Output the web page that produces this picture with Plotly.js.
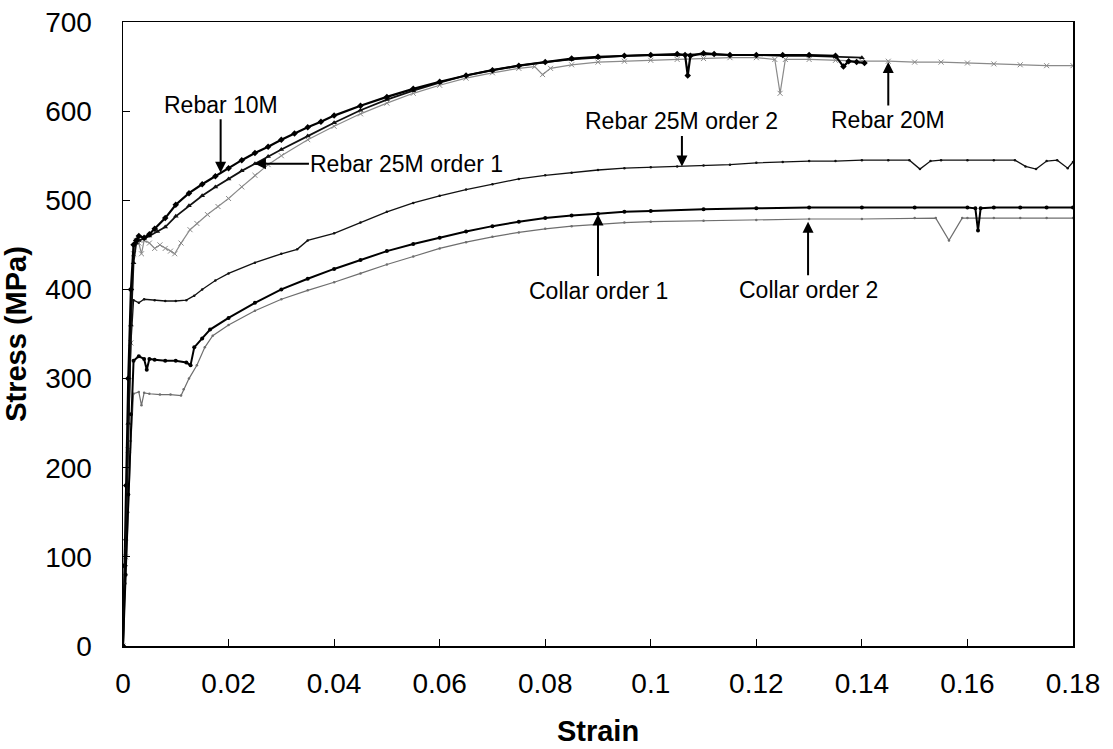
<!DOCTYPE html>
<html>
<head>
<meta charset="utf-8">
<script src="https://cdn.plot.ly/plotly-3.0.1.min.js"></script>
<style>
html,body{margin:0;padding:0;background:#fff;}
#chart{width:1113px;height:749px;}
</style>
</head>
<body>
<div id="chart"></div>
<script>
// ---- Data (strain, stress in MPa) ----
const rebar10mStrain = [0,0.0003,0.0006,0.001,0.0015,0.002,0.0025,0.003,0.004,0.005,0.006,0.008,0.01,0.0125,0.015,0.0175,0.02,0.0225,0.025,0.0275,0.03,0.0325,0.035,0.0375,0.04,0.045,0.05,0.055,0.06,0.065,0.07,0.075,0.08,0.085,0.09,0.095,0.1,0.105,0.1065,0.107,0.1075,0.11,0.112,0.115,0.12,0.125,0.13,0.135,0.1365,0.1375,0.139,0.1405];
const rebar10mStress = [0,90,180,300,400,450,455,460,458,462,468,480,495,508,518,527,536,545,553,560,568,575,582,588,595,606,616,625,633,640,646,651,655,659,661,662,663,664,663,640,662,665,664,663,663,663,663,662,650,656,655,654];

const rebar25m1Strain = [0,0.0005,0.001,0.0015,0.002,0.0025,0.003,0.004,0.005,0.0065,0.008,0.01,0.0125,0.015,0.0175,0.02,0.0225,0.025,0.0275,0.03,0.035,0.04,0.045,0.05,0.055,0.06,0.065,0.07,0.075,0.08,0.085,0.09,0.095,0.1,0.105,0.11,0.115,0.12,0.125,0.13,0.135,0.14];
const rebar25m1Stress = [0,120,250,360,430,452,455,457,460,465,470,482,494,505,515,524,533,541,549,557,572,587,601,613,623,632,640,646,651,655,658,660,662,663,663,664,663,663,662,662,661,660];

const rebar20mStrain = [0,0.0005,0.001,0.0015,0.002,0.0025,0.003,0.0035,0.004,0.005,0.006,0.007,0.008,0.009,0.0098,0.011,0.0127,0.014,0.016,0.018,0.02,0.0225,0.025,0.0275,0.03,0.035,0.04,0.045,0.05,0.055,0.06,0.065,0.07,0.075,0.078,0.0795,0.081,0.085,0.09,0.095,0.1,0.105,0.11,0.115,0.12,0.1235,0.1245,0.1255,0.13,0.135,0.14,0.145,0.15,0.155,0.16,0.165,0.17,0.175,0.18];
const rebar20mStress = [0,100,220,340,440,455,452,440,455,452,446,450,446,443,440,452,467,474,484,493,502,515,528,540,550,568,583,597,609,620,629,637,643,648,650,641,648,652,655,656,657,658,659,660,660,658,620,658,658,657,656,656,655,655,654,653,652,651,651];

const rebar25m2Strain = [0,0.0005,0.001,0.0015,0.002,0.003,0.004,0.006,0.008,0.01,0.012,0.0135,0.015,0.0175,0.02,0.025,0.03,0.033,0.035,0.04,0.045,0.05,0.055,0.06,0.065,0.07,0.075,0.08,0.085,0.09,0.095,0.1,0.105,0.11,0.115,0.12,0.125,0.13,0.135,0.14,0.145,0.149,0.151,0.153,0.155,0.16,0.165,0.169,0.171,0.173,0.175,0.177,0.179,0.18];
const rebar25m2Stress = [0,110,230,340,388,385,389,388,387,387,388,393,400,410,418,430,440,445,455,463,475,487,497,505,512,518,524,528,531,534,536,537,538,539,540,542,543,544,544,545,545,545,535,544,545,545,545,545,538,535,544,545,536,543];

const collar1Strain = [0,0.0005,0.001,0.0015,0.002,0.003,0.004,0.0045,0.005,0.006,0.008,0.01,0.012,0.0128,0.0135,0.015,0.0165,0.02,0.025,0.03,0.035,0.04,0.045,0.05,0.055,0.06,0.065,0.07,0.075,0.08,0.085,0.09,0.095,0.1,0.11,0.12,0.13,0.14,0.15,0.16,0.1615,0.162,0.1625,0.165,0.17,0.175,0.18];
const collar1Stress = [0,80,170,260,320,325,322,310,322,321,320,320,318,315,335,345,355,368,385,400,412,423,433,443,451,458,465,471,476,480,483,485,487,488,490,491,492,492,492,492,491,466,491,492,492,492,492];

const collar2Strain = [0,0.0005,0.001,0.0015,0.002,0.003,0.0035,0.004,0.005,0.007,0.009,0.011,0.0115,0.0125,0.014,0.0155,0.017,0.02,0.025,0.03,0.035,0.04,0.045,0.05,0.055,0.06,0.065,0.07,0.075,0.08,0.085,0.09,0.095,0.1,0.11,0.12,0.13,0.14,0.15,0.154,0.1565,0.159,0.16,0.165,0.17,0.175,0.18];
const collar2Stress = [0,70,150,230,283,285,270,284,283,282,282,281,288,300,315,335,348,360,376,389,399,408,418,428,437,446,453,459,464,468,471,473,475,476,477,478,479,479,480,480,455,480,480,480,480,480,480];

const xTickVals = [0,0.02,0.04,0.06,0.08,0.1,0.12,0.14,0.16,0.18];
const xTickText = ["0","0.02","0.04","0.06","0.08","0.1","0.12","0.14","0.16","0.18"];
const yTickVals = [0,100,200,300,400,500,600,700];

const FONT = 'Arial, "Liberation Sans", sans-serif';

const traces = [
  {x: rebar20mStrain, y: rebar20mStress, mode:'lines+markers', name:'Rebar 20M',
   line:{color:'#8a8a8a', width:1.2}, marker:{symbol:'x-thin', size:5, color:'#8a8a8a', line:{color:'#8a8a8a', width:1}}},
  {x: rebar25m1Strain, y: rebar25m1Stress, mode:'lines+markers', name:'Rebar 25M order 1',
   line:{color:'#111', width:1.8}, marker:{symbol:'triangle-up', size:5, color:'#111'}},
  {x: rebar10mStrain, y: rebar10mStress, mode:'lines+markers', name:'Rebar 10M',
   line:{color:'#000', width:2.2}, marker:{symbol:'diamond', size:5, color:'#000'}},
  {x: rebar25m2Strain, y: rebar25m2Stress, mode:'lines+markers', name:'Rebar 25M order 2',
   line:{color:'#111', width:1.3}, marker:{symbol:'circle', size:2.5, color:'#111'}},
  {x: collar2Strain, y: collar2Stress, mode:'lines+markers', name:'Collar order 2',
   line:{color:'#6e6e6e', width:1.2}, marker:{symbol:'circle', size:2.5, color:'#6e6e6e'}},
  {x: collar1Strain, y: collar1Stress, mode:'lines+markers', name:'Collar order 1',
   line:{color:'#000', width:2}, marker:{symbol:'circle', size:4, color:'#000'}}
];

function ann(text, x, y, ax, ay){
  return {x:x, y:y, xref:'x', yref:'y', text:text, showarrow:true, ax:ax, ay:ay,
    arrowhead:2, arrowsize:1.1, arrowwidth:2, arrowcolor:'#000',
    font:{family:FONT, size:23, color:'#000'}};
}

const layout = {
  width:1113, height:749,
  paper_bgcolor:'#fff', plot_bgcolor:'#fff',
  margin:{l:123, r:40, t:22, b:103},
  showlegend:false,
  font:{family:FONT, color:'#000'},
  xaxis:{range:[0,0.18], tickvals:xTickVals, ticktext:xTickText,
    ticks:'inside', ticklen:7, tickcolor:'#000', showgrid:false, zeroline:false,
    showline:true, linecolor:'#000', linewidth:1.5, mirror:true,
    tickfont:{family:FONT, size:28, color:'#000'}, ticklabelstandoff:12,
    title:{text:'<b>Strain</b>', font:{family:FONT, size:29, color:'#000'}, standoff:22}},
  yaxis:{range:[0,700], tickvals:yTickVals,
    ticks:'inside', ticklen:7, tickcolor:'#000', showgrid:false, zeroline:false,
    showline:true, linecolor:'#000', linewidth:1.5, mirror:true,
    tickfont:{family:FONT, size:28, color:'#000'}, ticklabelstandoff:24,
    title:{text:'<b>Stress (MPa)</b>', font:{family:FONT, size:29, color:'#000'}, standoff:12}},
  annotations:[
    ann('Rebar 10M', 0.0185, 531, 0, -68),
    ann('Rebar 25M order 1', 0.025, 541, 152, 0),
    ann('Rebar 25M order 2', 0.1059, 538, 0, -45),
    ann('Rebar 20M', 0.145, 655, 0, 58),
    ann('Collar order 1', 0.09, 484, 0, 76),
    ann('Collar order 2', 0.1298, 476, 0, 68)
  ]
};

Plotly.newPlot('chart', traces, layout, {displayModeBar:false, staticPlot:true});
</script>
</body>
</html>
